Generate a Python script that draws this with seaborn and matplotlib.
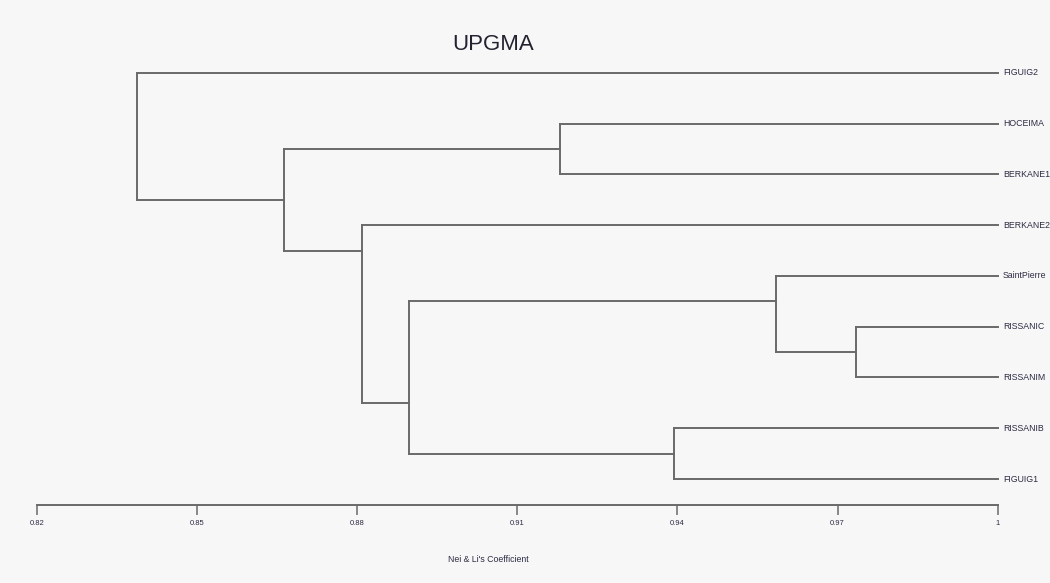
import numpy as np
import pandas as pd
import seaborn as sns
import matplotlib.pyplot as plt

# leaves top to bottom, and the UPGMA merges (similarity level)
leaves = ["FIGUIG2", "HOCEIMA", "BERKANE1", "BERKANE2", "SaintPierre",
          "RISSANIC", "RISSANIM", "RISSANIB", "FIGUIG1"]
merge_left = ["RISSANIC", "SaintPierre", "RISSANIB", "m1", "BERKANE2", "HOCEIMA", "m5", "FIGUIG2"]
merge_right = ["RISSANIM", "m0", "FIGUIG1", "m2", "m3", "BERKANE1", "m4", "m6"]
merge_sim = [0.9734, 0.9584, 0.9394, 0.8898, 0.8809, 0.9181, 0.8664, 0.8387]

ticks = [0.82, 0.85, 0.88, 0.91, 0.94, 0.97, 1.0]
tick_labels = ["0.82", "0.85", "0.88", "0.91", "0.94", "0.97", "1"]

# node info: x level, y connection, first leaf, last leaf
node = {}
for i, name in enumerate(leaves):
    node[name] = (1.0, float(i), i, i)

rows = []
seg = 0
for k, (l, r, s) in enumerate(zip(merge_left, merge_right, merge_sim)):
    lx, ly, lf, ll = node[l]
    rx, ry, rf, rl = node[r]
    # horizontal arms
    rows += [(seg, lx, ly), (seg, s, ly)]
    seg += 1
    rows += [(seg, rx, ry), (seg, s, ry)]
    seg += 1
    # vertical joint
    rows += [(seg, s, ly), (seg, s, ry)]
    seg += 1
    node["m%d" % k] = (s, (ll + rf) / 2, lf, rl)

df = pd.DataFrame(rows, columns=["seg", "x", "y"])

sns.set_style("white")
plt.rcParams["font.family"] = ["Liberation Sans", "DejaVu Sans"]

bg = "#f7f7f7"
line_col = "#6a6a6a"
fig = plt.figure(figsize=(10.5, 5.83), dpi=100, facecolor=bg)
ax = fig.add_axes([0.03495, 0.13379, 0.91524, 0.7933])
ax.set_facecolor(bg)

sns.lineplot(data=df, x="x", y="y", units="seg", estimator=None, sort=False,
             color=line_col, linewidth=1.4, ax=ax, legend=False)
for ln in ax.lines:
    ln.set_clip_on(False)
    ln.set_solid_capstyle("projecting")

ax.set_xlim(0.82, 1.0)
ax.set_ylim(8.512, -0.6)

for i, name in enumerate(leaves):
    ax.annotate(name, xy=(1.0, i), xytext=(3.8, 0), textcoords="offset points",
                ha="left", va="center", fontsize=6.3, color="#2c2c44",
                annotation_clip=False)

for sp in ["left", "top", "right"]:
    ax.spines[sp].set_visible(False)
ax.spines["bottom"].set_color(line_col)
ax.spines["bottom"].set_linewidth(1.4)
ax.set_xticks(ticks)
ax.set_xticklabels(tick_labels)
ax.set_yticks([])
ax.tick_params(axis="x", direction="out", length=7, width=1.1, color=line_col,
               labelsize=5.5, labelcolor="#2c2c44", pad=4, bottom=True)
ax.set_xlabel("")
ax.set_ylabel("")

fig.text(493 / 1050, 1 - 44 / 583, "UPGMA", ha="center", va="center",
         fontsize=16, color="#222230")
fig.text(488 / 1050, 1 - 560 / 583, "Nei & Li's Coefficient", ha="center",
         va="center", fontsize=6.3, color="#2c2c44")

fig.savefig("out.png", dpi=100, facecolor=bg)
